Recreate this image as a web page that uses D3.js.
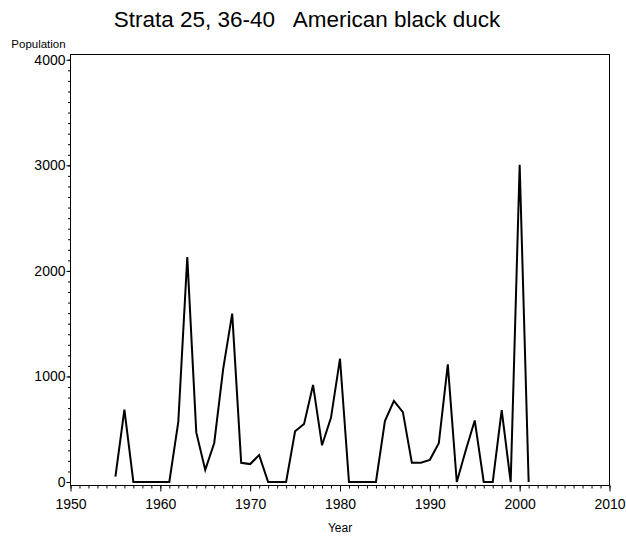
<!DOCTYPE html>
<html>
<head>
<meta charset="utf-8">
<script src="https://cdn.jsdelivr.net/npm/d3@7/dist/d3.min.js"></script>
<style>
  html, body { margin: 0; padding: 0; background: #fff; }
  svg { display: block; font-family: Arial, "Liberation Sans", Helvetica, sans-serif; }
</style>
</head>
<body>
<svg id="chart" width="626" height="539"></svg>
<script>
// Annual survey counts, strata 25 and 36-40
const years = [1955, 1956, 1957, 1958, 1959, 1960, 1961, 1962, 1963, 1964,
               1965, 1966, 1967, 1968, 1969, 1970, 1971, 1972, 1973, 1974,
               1975, 1976, 1977, 1978, 1979, 1980, 1981, 1982, 1983, 1984,
               1985, 1986, 1987, 1988, 1989, 1990, 1991, 1992, 1993, 1994,
               1995, 1996, 1997, 1998, 1999, 2000, 2001];
const population = [50, 685, 0, 0, 0, 0, 0, 570, 2130, 470,
                    115, 370, 1075, 1595, 182, 170, 255, 0, 0, 0,
                    480, 550, 920, 348, 610, 1168, 0, 0, 0, 0,
                    577, 768, 662, 182, 182, 210, 368, 1114, 0, 300,
                    583, 0, 0, 680, 0, 3005, 0];

const xTicks = [1950, 1960, 1970, 1980, 1990, 2000, 2010];
const yTicks = [0, 1000, 2000, 3000, 4000];

const title = "Strata 25, 36-40   American black duck";
const xLabel = "Year";
const yLabel = "Population";

const svg = d3.select("#chart");
const frame = { left: 70.5, right: 609.5, top: 54.5, bottom: 485.5 };

const x = d3.scaleLinear().domain([1950, 2010]).range([frame.left, frame.right]);
const y = d3.scaleLinear().domain([-33, 4050]).range([frame.bottom, frame.top]);

// Title (spaces kept as written)
svg.append("text")
  .attr("x", 307).attr("y", 27)
  .attr("text-anchor", "middle")
  .attr("font-size", 22.5)
  .style("white-space", "pre")
  .text(title);

// Plot frame
svg.append("rect")
  .attr("x", frame.left).attr("y", frame.top)
  .attr("width", frame.right - frame.left)
  .attr("height", frame.bottom - frame.top)
  .attr("fill", "none").attr("stroke", "#000").attr("stroke-width", 1);

// X axis: yearly minor ticks, labelled decades
const xAxisMinor = d3.axisBottom(x).tickValues(d3.range(1950, 2011, 1)).tickSize(3).tickFormat("");
svg.append("g").attr("transform", `translate(0,${frame.bottom})`).call(xAxisMinor)
  .call(g => g.select(".domain").remove());
const xAxis = d3.axisBottom(x).tickValues(xTicks).tickSize(6).tickPadding(8).tickFormat(d3.format("d"));
svg.append("g").attr("transform", `translate(0,${frame.bottom})`).call(xAxis)
  .call(g => g.select(".domain").remove())
  .call(g => g.selectAll("text").attr("font-size", 14).attr("font-family", "Arial, 'Liberation Sans', sans-serif").attr("fill", "#000"));

// Y axis: minor ticks every 100
const yAxisMinor = d3.axisLeft(y).tickValues(d3.range(0, 4001, 100)).tickSize(2.5).tickFormat("");
svg.append("g").attr("transform", `translate(${frame.left},0)`).call(yAxisMinor)
  .call(g => g.select(".domain").remove());
const yAxis = d3.axisLeft(y).tickValues(yTicks).tickSize(4).tickPadding(1).tickFormat(d3.format("d"));
svg.append("g").attr("transform", `translate(${frame.left},0)`).call(yAxis)
  .call(g => g.select(".domain").remove())
  .call(g => g.selectAll("text").attr("font-size", 14).attr("font-family", "Arial, 'Liberation Sans', sans-serif").attr("fill", "#000"));

// Axis titles
svg.append("text")
  .attr("x", (frame.left + frame.right) / 2).attr("y", 532)
  .attr("text-anchor", "middle").attr("font-size", 12)
  .text(xLabel);
svg.append("text")
  .attr("x", 38.5).attr("y", 48)
  .attr("text-anchor", "middle").attr("font-size", 11.5)
  .text(yLabel);

// Population series
const line = d3.line()
  .x((d, i) => x(years[i]))
  .y(d => y(d));
svg.append("path")
  .datum(population)
  .attr("d", line)
  .attr("fill", "none")
  .attr("stroke", "#000")
  .attr("stroke-width", 2)
  .attr("stroke-linejoin", "miter");
</script>
</body>
</html>
